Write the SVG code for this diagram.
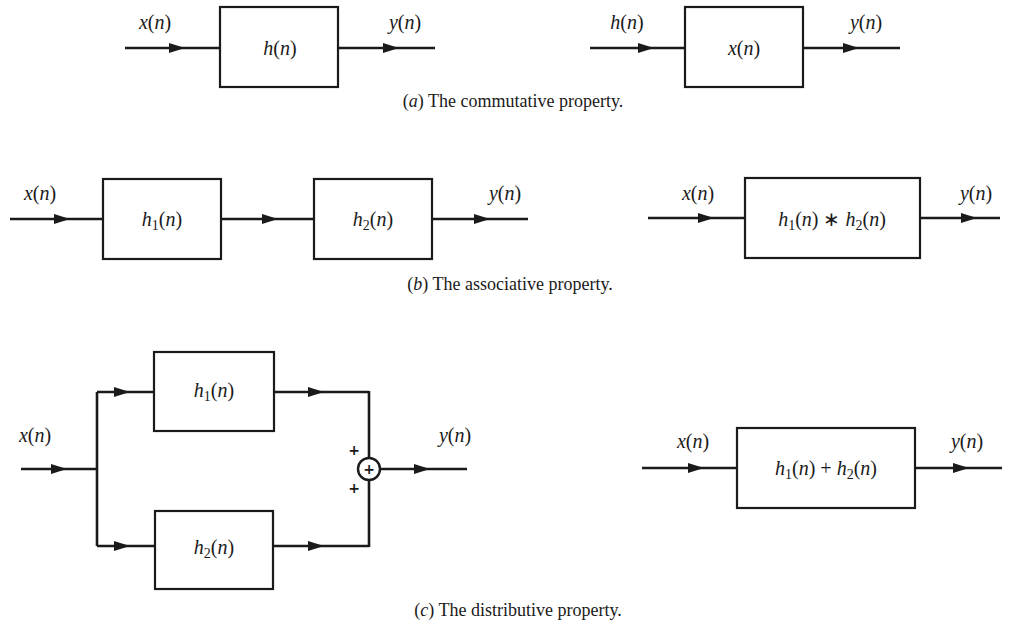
<svg xmlns="http://www.w3.org/2000/svg" width="1010" height="629" viewBox="0 0 1010 629">
<style>
  .bg { fill: #ffffff; }
  .box { fill: none; stroke: #1a1a1a; stroke-width: 2.2; }
  .wire { fill: none; stroke: #1a1a1a; stroke-width: 2.6; }
  .arr { fill: none; stroke: #1a1a1a; stroke-width: 2.6; marker-mid: url(#tri); }
  .lbl { font-family: "Liberation Serif", "Times New Roman", serif; font-size: 20px; fill: #1a1a1a; text-anchor: middle; }
  .it { font-style: italic; }
  .sub { font-size: 14px; }
  .cap { font-family: "Liberation Serif", "Times New Roman", serif; font-size: 18px; fill: #1a1a1a; text-anchor: middle; }
  .plus { font-family: "DejaVu Sans", sans-serif; font-size: 14px; font-weight: bold; fill: #1a1a1a; text-anchor: middle; }
</style>
<defs>
  <marker id="tri" viewBox="0 0 16 10" refX="15" refY="5" markerWidth="16" markerHeight="10" markerUnits="userSpaceOnUse" orient="auto">
    <path d="M0 0 L16 5 L0 10 Z" fill="#1a1a1a"/>
  </marker>
</defs>
<rect class="bg" x="0" y="0" width="1010" height="629"/>

<g id="connectors">
  <path class="arr" d="M125 48 L184 48 L220 48"/>
  <path class="arr" d="M338 48 L398 48 L435 48"/>
  <path class="arr" d="M590 48 L653 48 L685 48"/>
  <path class="arr" d="M803 48 L858 48 L900 48"/>
  <path class="arr" d="M10 219 L69 219 L103 219"/>
  <path class="arr" d="M221 219 L277 219 L314 219"/>
  <path class="arr" d="M432 219 L489 219 L528 219"/>
  <path class="arr" d="M648 218 L713 218 L745 218"/>
  <path class="arr" d="M920 218 L976 218 L1000 218"/>
  <path class="arr" d="M21 469 L66 469 L97 469"/>
  <path class="wire" d="M97 392 V546"/>
  <path class="arr" d="M97 392 L129 392 L154 392"/>
  <path class="arr" d="M97 546 L129 546 L155 546"/>
  <path class="arr" d="M274 392 L323 392 L369 392"/>
  <path class="wire" d="M369 391 V458"/>
  <path class="arr" d="M273 546 L323 546 L369 546"/>
  <path class="wire" d="M369 547 V480"/>
  <path class="arr" d="M380 469 L429 469 L467 469"/>
  <path class="arr" d="M642 468 L703 468 L737 468"/>
  <path class="arr" d="M915 468 L968 468 L1002 468"/>
</g>

<g id="a-left-h">
  <rect class="box" x="220" y="7" width="118" height="80"/>
  <text class="lbl" x="280" y="55"><tspan class="it">h</tspan>(<tspan class="it">n</tspan>)</text>
</g>
<g id="a-left-labels">
  <text class="lbl" x="155" y="29"><tspan class="it">x</tspan>(<tspan class="it">n</tspan>)</text>
  <text class="lbl" x="405" y="29"><tspan class="it">y</tspan>(<tspan class="it">n</tspan>)</text>
</g>

<g id="a-right-x">
  <rect class="box" x="685" y="7" width="118" height="80"/>
  <text class="lbl" x="744" y="55"><tspan class="it">x</tspan>(<tspan class="it">n</tspan>)</text>
</g>
<g id="a-right-labels">
  <text class="lbl" x="627" y="29"><tspan class="it">h</tspan>(<tspan class="it">n</tspan>)</text>
  <text class="lbl" x="866" y="29"><tspan class="it">y</tspan>(<tspan class="it">n</tspan>)</text>
</g>
<text class="cap" x="513" y="107">(<tspan font-style="italic">a</tspan>) The commutative property.</text>

<g id="b-left-h1">
  <rect class="box" x="103" y="179" width="118" height="80"/>
  <text class="lbl" x="162" y="226"><tspan class="it">h</tspan><tspan class="sub" dy="4">1</tspan><tspan dy="-4">(</tspan><tspan class="it">n</tspan>)</text>
</g>
<g id="b-left-h2">
  <rect class="box" x="314" y="179" width="118" height="80"/>
  <text class="lbl" x="373" y="226"><tspan class="it">h</tspan><tspan class="sub" dy="4">2</tspan><tspan dy="-4">(</tspan><tspan class="it">n</tspan>)</text>
</g>
<g id="b-left-labels">
  <text class="lbl" x="40" y="200"><tspan class="it">x</tspan>(<tspan class="it">n</tspan>)</text>
  <text class="lbl" x="505" y="200"><tspan class="it">y</tspan>(<tspan class="it">n</tspan>)</text>
</g>

<g id="b-right-conv">
  <rect class="box" x="745" y="178" width="175" height="80"/>
  <text class="lbl" x="832" y="226"><tspan class="it">h</tspan><tspan class="sub" dy="4">1</tspan><tspan dy="-4">(</tspan><tspan class="it">n</tspan>) ∗ <tspan class="it">h</tspan><tspan class="sub" dy="4">2</tspan><tspan dy="-4">(</tspan><tspan class="it">n</tspan>)</text>
</g>
<g id="b-right-labels">
  <text class="lbl" x="698" y="200"><tspan class="it">x</tspan>(<tspan class="it">n</tspan>)</text>
  <text class="lbl" x="976" y="200"><tspan class="it">y</tspan>(<tspan class="it">n</tspan>)</text>
</g>
<text class="cap" x="510" y="290">(<tspan font-style="italic">b</tspan>) The associative property.</text>

<g id="c-left-h1">
  <rect class="box" x="154" y="352" width="120" height="79"/>
  <text class="lbl" x="214" y="397"><tspan class="it">h</tspan><tspan class="sub" dy="4">1</tspan><tspan dy="-4">(</tspan><tspan class="it">n</tspan>)</text>
</g>
<g id="c-left-h2">
  <rect class="box" x="155" y="511" width="118" height="78"/>
  <text class="lbl" x="214" y="554"><tspan class="it">h</tspan><tspan class="sub" dy="4">2</tspan><tspan dy="-4">(</tspan><tspan class="it">n</tspan>)</text>
</g>
<g id="c-left-sum">
  <circle cx="369" cy="469" r="11" fill="#fff" stroke="#1a1a1a" stroke-width="2.4"/>
  <text class="plus" x="369" y="474">+</text>
  <text class="plus" x="354" y="455">+</text>
  <text class="plus" x="354" y="493">+</text>
</g>
<g id="c-left-labels">
  <text class="lbl" x="35" y="442"><tspan class="it">x</tspan>(<tspan class="it">n</tspan>)</text>
  <text class="lbl" x="455" y="442"><tspan class="it">y</tspan>(<tspan class="it">n</tspan>)</text>
</g>

<g id="c-right-sum">
  <rect class="box" x="737" y="428" width="178" height="80"/>
  <text class="lbl" x="826" y="475"><tspan class="it">h</tspan><tspan class="sub" dy="4">1</tspan><tspan dy="-4">(</tspan><tspan class="it">n</tspan>) + <tspan class="it">h</tspan><tspan class="sub" dy="4">2</tspan><tspan dy="-4">(</tspan><tspan class="it">n</tspan>)</text>
</g>
<g id="c-right-labels">
  <text class="lbl" x="693" y="448"><tspan class="it">x</tspan>(<tspan class="it">n</tspan>)</text>
  <text class="lbl" x="967" y="448"><tspan class="it">y</tspan>(<tspan class="it">n</tspan>)</text>
</g>
<text class="cap" x="518" y="616">(<tspan font-style="italic">c</tspan>) The distributive property.</text>
</svg>
